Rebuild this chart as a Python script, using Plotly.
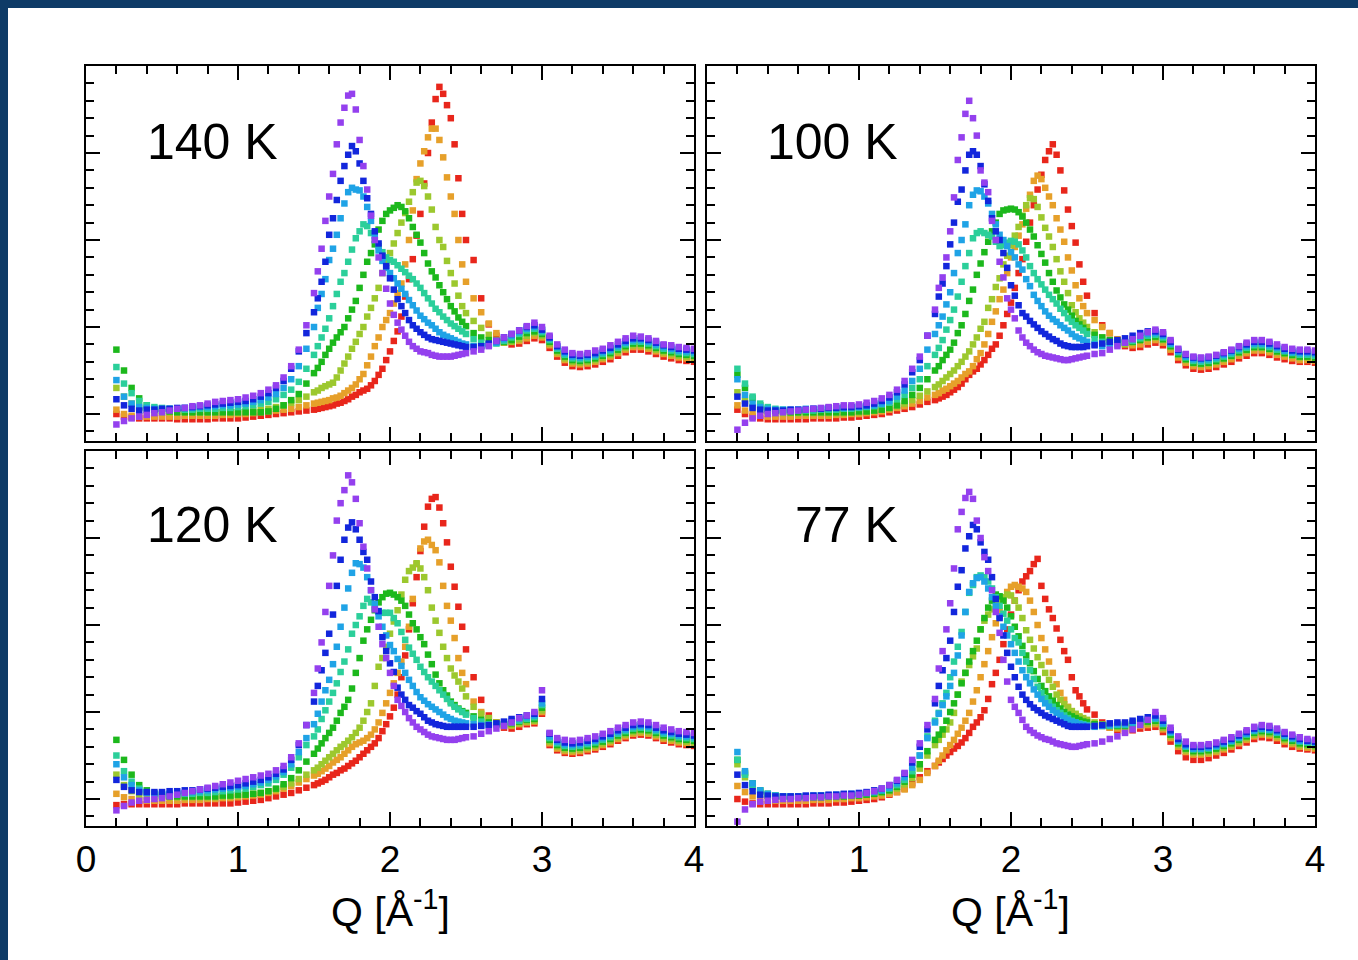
import plotly.graph_objects as go

# Q grid (1/Angstrom)
Q = [0.20, 0.25, 0.30, 0.35, 0.40, 0.45, 0.50, 0.55, 0.60, 0.65, 0.70,
     0.75, 0.80, 0.85, 0.90, 0.95, 1.00, 1.05, 1.10, 1.15, 1.20, 1.25, 1.30, 1.35, 1.40, 1.45,
     1.500, 1.525, 1.550, 1.575, 1.600, 1.625, 1.650, 1.675, 1.700, 1.725, 1.750,
     1.775, 1.800, 1.825, 1.850, 1.875, 1.900, 1.925, 1.950, 1.975, 2.000, 2.025,
     2.050, 2.075, 2.100, 2.125, 2.150, 2.175, 2.200, 2.225, 2.250, 2.275, 2.300,
     2.325, 2.350, 2.375, 2.400, 2.425, 2.450, 2.475, 2.500,
     2.55, 2.60, 2.65, 2.70, 2.75, 2.80, 2.85, 2.90, 2.95, 3.00, 3.05, 3.10, 3.15, 3.20, 3.25,
     3.30, 3.35, 3.40, 3.45, 3.50, 3.55, 3.60, 3.65, 3.70, 3.75, 3.80, 3.85, 3.90, 3.95, 4.00]

# ---------------- 140 K ----------------
k140_purple = [-0.12,-0.08,-0.05,-0.03,-0.01,0.01,0.02,0.04,0.06,0.07,0.09,
    0.10,0.12,0.14,0.15,0.16,0.17,0.19,0.21,0.24,0.28,0.33,0.42,0.55,0.74,1.02,
    1.39,1.64,1.90,2.22,2.50,2.76,3.10,3.35,3.52,3.66,3.68,
    3.50,3.15,2.85,2.58,2.28,2.00,1.80,1.62,1.44,1.27,1.14,
    1.05,0.97,0.90,0.83,0.78,0.75,0.72,0.71,0.70,0.68,0.67,
    0.66,0.66,0.66,0.66,0.67,0.68,0.69,0.70,
    0.72,0.74,0.78,0.84,0.88,0.92,0.96,1.01,1.05,1.00,0.90,0.80,0.74,0.70,0.69,
    0.70,0.73,0.75,0.79,0.83,0.87,0.90,0.89,0.87,0.84,0.80,0.79,0.77,0.76,0.75]
k140_blue = [0.17,0.10,0.06,0.04,0.05,0.05,0.06,0.06,0.07,0.07,0.08,
    0.09,0.10,0.11,0.12,0.13,0.14,0.15,0.17,0.20,0.24,0.30,0.38,0.52,0.72,0.93,
    1.17,1.33,1.52,1.75,2.06,2.25,2.46,2.68,2.85,2.98,3.08,
    3.02,2.88,2.68,2.48,2.30,2.10,1.96,1.82,1.70,1.56,1.43,
    1.32,1.24,1.16,1.08,1.02,0.98,0.94,0.91,0.88,0.86,0.85,
    0.84,0.83,0.82,0.81,0.80,0.79,0.78,0.77,
    0.77,0.78,0.81,0.84,0.88,0.92,0.96,1.00,1.02,0.97,0.88,0.78,0.72,0.68,0.67,
    0.68,0.70,0.73,0.76,0.80,0.84,0.87,0.87,0.85,0.82,0.79,0.77,0.75,0.74,0.73]
k140_lblue = [0.39,0.20,0.12,0.08,0.07,0.06,0.06,0.06,0.06,0.07,0.07,
    0.08,0.08,0.09,0.10,0.10,0.11,0.12,0.14,0.16,0.19,0.23,0.30,0.40,0.55,0.75,
    1.00,1.22,1.38,1.55,1.77,1.90,2.06,2.25,2.42,2.55,2.60,
    2.58,2.57,2.50,2.38,2.22,2.05,1.88,1.76,1.68,1.62,1.56,
    1.50,1.44,1.38,1.31,1.25,1.19,1.13,1.09,1.05,1.02,0.98,
    0.94,0.91,0.89,0.87,0.85,0.83,0.81,0.80,
    0.78,0.78,0.79,0.82,0.86,0.90,0.94,0.98,1.00,0.96,0.87,0.77,0.70,0.66,0.65,
    0.66,0.68,0.71,0.74,0.78,0.82,0.85,0.85,0.83,0.80,0.77,0.75,0.73,0.72,0.71]
k140_mint = [0.54,0.35,0.24,0.15,0.10,0.08,0.07,0.06,0.06,0.05,0.05,
    0.06,0.06,0.06,0.07,0.07,0.08,0.09,0.10,0.12,0.14,0.17,0.22,0.28,0.37,0.52,
    0.68,0.78,0.88,0.98,1.10,1.24,1.38,1.52,1.62,1.75,1.89,
    2.02,2.10,2.18,2.16,2.08,2.00,1.93,1.86,1.80,1.77,1.75,
    1.71,1.67,1.63,1.59,1.55,1.50,1.45,1.39,1.33,1.27,1.21,
    1.17,1.12,1.08,1.04,1.01,0.98,0.95,0.92,
    0.86,0.82,0.80,0.81,0.84,0.88,0.92,0.96,0.98,0.94,0.85,0.75,0.68,0.64,0.63,
    0.64,0.66,0.69,0.72,0.76,0.80,0.83,0.83,0.81,0.78,0.75,0.73,0.71,0.70,0.69]
k140_green = [0.74,0.50,0.30,0.18,0.10,0.06,0.04,0.03,0.02,0.02,0.02,
    0.02,0.02,0.02,0.02,0.02,0.02,0.02,0.02,0.02,0.03,0.06,0.10,0.16,0.23,0.35,
    0.47,0.53,0.60,0.68,0.75,0.82,0.88,0.94,1.00,1.10,1.20,
    1.30,1.45,1.60,1.75,1.85,1.95,2.12,2.22,2.30,2.34,2.37,
    2.40,2.38,2.33,2.25,2.15,2.06,1.97,1.85,1.73,1.64,1.57,
    1.48,1.40,1.32,1.24,1.18,1.11,1.06,1.01,
    0.93,0.88,0.85,0.83,0.83,0.85,0.89,0.93,0.95,0.92,0.83,0.73,0.66,0.62,0.61,
    0.62,0.64,0.67,0.70,0.74,0.78,0.81,0.81,0.79,0.76,0.73,0.71,0.69,0.68,0.67]
k140_ygreen = [0.30,0.20,0.12,0.07,0.04,0.03,0.02,0.02,0.02,0.02,0.02,
    0.02,0.02,0.02,0.02,0.02,0.02,0.03,0.04,0.05,0.06,0.08,0.10,0.13,0.16,0.20,
    0.25,0.27,0.30,0.32,0.34,0.36,0.42,0.50,0.58,0.66,0.75,
    0.83,0.92,1.00,1.12,1.22,1.33,1.45,1.62,1.74,1.85,1.96,
    2.08,2.20,2.31,2.44,2.55,2.66,2.68,2.62,2.50,2.35,2.15,
    2.00,1.92,1.76,1.62,1.50,1.36,1.24,1.16,
    1.07,0.99,0.91,0.85,0.82,0.83,0.86,0.90,0.93,0.90,0.81,0.71,0.64,0.60,0.59,
    0.60,0.62,0.65,0.68,0.72,0.76,0.79,0.79,0.77,0.74,0.71,0.69,0.67,0.66,0.65]
k140_orange = [0.05,0.00,-0.02,-0.03,-0.03,-0.03,-0.03,-0.03,-0.03,-0.02,-0.02,
    -0.02,-0.02,-0.02,-0.01,-0.01,0.00,0.00,0.01,0.02,0.03,0.04,0.05,0.06,0.08,0.10,
    0.12,0.13,0.14,0.15,0.16,0.18,0.19,0.21,0.24,0.27,0.30,
    0.34,0.40,0.46,0.56,0.66,0.78,0.88,1.00,1.08,1.16,1.27,
    1.39,1.50,1.72,2.00,2.34,2.70,2.88,3.02,3.18,3.28,3.28,
    3.15,2.95,2.72,2.50,2.30,2.00,1.72,1.52,
    1.33,1.17,1.04,0.93,0.86,0.83,0.84,0.87,0.90,0.88,0.79,0.69,0.62,0.58,0.57,
    0.58,0.60,0.63,0.66,0.70,0.74,0.77,0.77,0.75,0.72,0.69,0.67,0.65,0.64,0.63]
k140_red = [0.00,-0.03,-0.04,-0.05,-0.05,-0.05,-0.05,-0.05,-0.06,-0.06,-0.06,
    -0.06,-0.06,-0.05,-0.05,-0.05,-0.05,-0.04,-0.03,-0.02,-0.01,0.00,0.01,0.02,0.03,0.04,
    0.05,0.06,0.07,0.08,0.09,0.10,0.12,0.13,0.15,0.17,0.20,
    0.22,0.25,0.27,0.29,0.33,0.38,0.45,0.52,0.62,0.72,0.84,
    0.95,1.12,1.35,1.55,1.78,2.05,2.30,2.65,3.00,3.35,3.62,
    3.76,3.68,3.55,3.40,3.10,2.71,2.30,2.00,
    1.77,1.33,1.03,0.90,0.82,0.80,0.81,0.84,0.87,0.85,0.76,0.66,0.59,0.55,0.54,
    0.55,0.57,0.60,0.63,0.67,0.71,0.74,0.74,0.72,0.69,0.66,0.64,0.62,0.61,0.60]

# ---------------- 100 K ----------------
k100_purple = [-0.18,-0.10,-0.05,-0.02,0.00,0.01,0.02,0.03,0.04,0.05,0.06,
    0.07,0.08,0.09,0.10,0.10,0.11,0.13,0.15,0.18,0.22,0.28,0.38,0.52,0.66,0.90,
    1.20,1.45,1.57,1.80,2.10,2.49,2.92,3.18,3.45,3.60,3.40,
    3.20,2.80,2.66,2.55,2.22,2.00,1.75,1.57,1.33,1.20,1.10,
    0.96,0.88,0.82,0.78,0.74,0.71,0.69,0.67,0.66,0.65,0.64,
    0.63,0.62,0.62,0.63,0.64,0.65,0.66,0.67,
    0.69,0.70,0.74,0.78,0.82,0.86,0.90,0.94,0.97,0.94,0.85,0.75,0.69,0.66,0.65,
    0.66,0.68,0.71,0.74,0.78,0.82,0.85,0.85,0.83,0.80,0.77,0.75,0.74,0.74,0.73]
k100_blue = [0.20,0.12,0.07,0.05,0.04,0.04,0.04,0.05,0.05,0.05,0.06,
    0.06,0.07,0.07,0.08,0.08,0.09,0.10,0.12,0.15,0.19,0.25,0.34,0.48,0.62,0.90,
    1.15,1.35,1.50,1.70,1.95,2.20,2.44,2.58,2.80,2.98,3.02,
    2.98,2.85,2.64,2.45,2.25,2.10,2.00,1.85,1.68,1.48,1.36,
    1.25,1.16,1.12,1.07,1.03,0.99,0.95,0.92,0.89,0.86,0.84,
    0.81,0.79,0.78,0.77,0.77,0.77,0.77,0.78,
    0.79,0.81,0.83,0.85,0.87,0.90,0.93,0.95,0.95,0.92,0.83,0.74,0.68,0.65,0.64,
    0.65,0.67,0.70,0.73,0.77,0.80,0.83,0.83,0.81,0.78,0.75,0.73,0.72,0.72,0.71]
k100_lblue = [0.40,0.22,0.12,0.08,0.06,0.05,0.05,0.05,0.05,0.06,0.06,
    0.06,0.07,0.07,0.07,0.08,0.08,0.09,0.10,0.12,0.15,0.20,0.27,0.38,0.52,0.74,
    0.92,1.02,1.12,1.26,1.40,1.62,1.85,2.00,2.18,2.40,2.52,
    2.57,2.56,2.50,2.42,2.30,2.18,2.06,2.00,1.93,1.86,1.80,
    1.72,1.66,1.55,1.47,1.37,1.30,1.24,1.18,1.13,1.09,1.06,
    1.02,0.99,0.96,0.92,0.89,0.87,0.85,0.83,
    0.80,0.78,0.79,0.81,0.83,0.86,0.89,0.92,0.93,0.90,0.81,0.72,0.66,0.63,0.62,
    0.63,0.65,0.68,0.71,0.75,0.78,0.81,0.81,0.79,0.76,0.73,0.71,0.70,0.70,0.69]
k100_mint = [0.52,0.35,0.20,0.12,0.08,0.06,0.05,0.04,0.04,0.04,0.04,
    0.05,0.05,0.05,0.06,0.06,0.07,0.08,0.09,0.11,0.13,0.17,0.22,0.30,0.40,0.55,
    0.68,0.76,0.85,0.97,1.08,1.20,1.35,1.52,1.70,1.85,2.02,
    2.08,2.10,2.08,2.06,2.04,1.98,1.93,1.94,1.97,1.99,1.98,
    1.95,1.88,1.80,1.70,1.62,1.55,1.49,1.43,1.37,1.32,1.27,
    1.21,1.16,1.10,1.06,1.02,0.99,0.96,0.92,
    0.86,0.83,0.82,0.82,0.82,0.84,0.87,0.90,0.91,0.88,0.80,0.71,0.65,0.61,0.60,
    0.61,0.63,0.66,0.69,0.73,0.76,0.79,0.79,0.77,0.74,0.72,0.70,0.68,0.68,0.67]
k100_green = [0.45,0.30,0.18,0.10,0.06,0.04,0.03,0.02,0.02,0.02,0.02,
    0.02,0.02,0.02,0.02,0.02,0.03,0.03,0.04,0.05,0.07,0.10,0.15,0.22,0.30,0.40,
    0.50,0.55,0.62,0.68,0.74,0.82,0.93,1.02,1.15,1.30,1.43,
    1.60,1.73,1.86,1.98,2.10,2.20,2.30,2.34,2.35,2.36,2.35,
    2.32,2.27,2.20,2.12,2.04,1.94,1.84,1.74,1.62,1.52,1.42,
    1.34,1.26,1.20,1.13,1.07,1.03,0.99,0.95,
    0.91,0.88,0.85,0.83,0.82,0.83,0.85,0.88,0.89,0.86,0.78,0.69,0.63,0.59,0.58,
    0.59,0.61,0.64,0.67,0.71,0.74,0.77,0.77,0.75,0.72,0.70,0.68,0.66,0.66,0.65]
k100_ygreen = [0.25,0.15,0.08,0.04,0.02,0.01,0.01,0.01,0.01,0.01,0.01,
    0.01,0.01,0.01,0.01,0.02,0.02,0.03,0.04,0.05,0.07,0.09,0.12,0.16,0.21,0.26,
    0.31,0.34,0.38,0.42,0.46,0.50,0.55,0.60,0.66,0.72,0.80,
    0.88,0.98,1.06,1.22,1.32,1.46,1.56,1.72,1.82,1.94,2.05,
    2.15,2.28,2.40,2.48,2.47,2.38,2.26,2.14,2.04,1.92,1.78,
    1.64,1.52,1.39,1.25,1.17,1.10,1.05,1.00,
    0.94,0.88,0.83,0.80,0.80,0.82,0.85,0.87,0.88,0.85,0.77,0.68,0.62,0.58,0.57,
    0.58,0.60,0.63,0.66,0.70,0.73,0.76,0.76,0.74,0.71,0.69,0.67,0.65,0.65,0.64]
k100_orange = [0.10,0.04,0.00,-0.02,-0.03,-0.03,-0.03,-0.03,-0.02,-0.02,-0.02,
    -0.02,-0.02,-0.01,-0.01,0.00,0.00,0.01,0.02,0.03,0.05,0.07,0.09,0.12,0.15,0.19,
    0.22,0.24,0.27,0.29,0.32,0.35,0.38,0.42,0.46,0.49,0.55,
    0.63,0.70,0.80,0.92,1.06,1.18,1.32,1.43,1.62,1.80,1.92,
    2.05,2.18,2.36,2.52,2.68,2.74,2.70,2.60,2.50,2.40,2.25,
    2.12,1.98,1.80,1.65,1.48,1.33,1.24,1.16,
    1.08,1.00,0.93,0.86,0.81,0.79,0.80,0.83,0.85,0.82,0.74,0.65,0.59,0.55,0.54,
    0.55,0.57,0.60,0.63,0.67,0.70,0.73,0.73,0.71,0.68,0.66,0.64,0.62,0.62,0.61]
k100_red = [0.05,0.00,-0.03,-0.05,-0.06,-0.06,-0.06,-0.06,-0.06,-0.06,-0.05,
    -0.05,-0.05,-0.05,-0.04,-0.04,-0.03,-0.02,-0.01,0.00,0.02,0.04,0.06,0.08,0.11,0.14,
    0.16,0.18,0.20,0.22,0.25,0.28,0.31,0.35,0.40,0.45,0.49,
    0.52,0.57,0.62,0.68,0.75,0.80,0.90,1.02,1.15,1.28,1.45,
    1.62,1.78,1.98,2.20,2.40,2.58,2.75,2.92,3.02,3.10,2.98,
    2.80,2.57,2.35,2.16,1.97,1.72,1.52,1.36,
    1.16,1.02,0.93,0.85,0.78,0.76,0.77,0.80,0.82,0.79,0.71,0.62,0.56,0.52,0.51,
    0.52,0.54,0.57,0.60,0.64,0.67,0.70,0.70,0.68,0.65,0.63,0.61,0.60,0.60,0.59]

# ---------------- 120 K ----------------
k120_purple = [-0.13,-0.08,-0.04,-0.02,-0.01,0.00,0.01,0.03,0.05,0.07,0.09,
    0.11,0.13,0.15,0.17,0.19,0.21,0.23,0.25,0.27,0.29,0.33,0.38,0.48,0.64,0.85,
    1.22,1.50,1.80,2.15,2.45,2.80,3.20,3.40,3.55,3.72,3.64,
    3.45,3.17,2.90,2.65,2.40,2.18,1.98,1.78,1.62,1.45,1.30,
    1.14,1.07,1.00,0.93,0.88,0.83,0.80,0.77,0.74,0.72,0.71,
    0.70,0.69,0.68,0.68,0.68,0.69,0.70,0.71,
    0.72,0.75,0.78,0.81,0.84,0.88,0.93,0.96,1.00,1.25,0.76,0.70,0.68,0.67,0.68,
    0.70,0.72,0.75,0.78,0.82,0.85,0.88,0.89,0.88,0.85,0.82,0.80,0.78,0.77,0.76]
k120_blue = [0.22,0.14,0.10,0.08,0.08,0.08,0.08,0.09,0.09,0.10,0.10,
    0.11,0.12,0.13,0.14,0.15,0.16,0.18,0.20,0.22,0.25,0.29,0.34,0.45,0.62,0.85,
    1.12,1.30,1.48,1.68,1.90,2.12,2.45,2.75,2.98,3.12,3.18,
    3.10,2.98,2.84,2.75,2.50,2.32,2.16,1.86,1.70,1.56,1.46,
    1.28,1.20,1.14,1.08,1.05,1.01,0.98,0.94,0.90,0.88,0.86,
    0.85,0.84,0.83,0.83,0.83,0.83,0.83,0.83,
    0.83,0.84,0.85,0.87,0.89,0.92,0.94,0.96,0.98,1.15,0.75,0.68,0.65,0.64,0.65,
    0.67,0.69,0.72,0.75,0.79,0.82,0.85,0.86,0.85,0.82,0.79,0.77,0.75,0.74,0.73]
k120_lblue = [0.40,0.25,0.16,0.10,0.07,0.06,0.06,0.06,0.07,0.07,0.08,
    0.09,0.10,0.11,0.12,0.13,0.14,0.15,0.17,0.19,0.22,0.26,0.31,0.40,0.54,0.70,
    0.86,0.98,1.12,1.25,1.37,1.55,1.75,1.98,2.20,2.42,2.60,
    2.71,2.70,2.66,2.55,2.40,2.24,2.10,1.98,1.88,1.77,1.70,
    1.61,1.53,1.45,1.37,1.30,1.23,1.17,1.13,1.09,1.06,1.03,
    1.00,0.97,0.94,0.92,0.90,0.89,0.88,0.87,
    0.86,0.85,0.85,0.86,0.88,0.90,0.92,0.94,0.96,1.10,0.72,0.66,0.63,0.62,0.63,
    0.65,0.67,0.70,0.73,0.77,0.80,0.83,0.84,0.83,0.80,0.77,0.75,0.73,0.72,0.71]
k120_mint = [0.50,0.32,0.20,0.12,0.08,0.06,0.05,0.05,0.05,0.06,0.06,
    0.07,0.07,0.08,0.09,0.10,0.11,0.12,0.14,0.16,0.18,0.22,0.28,0.36,0.48,0.62,
    0.72,0.80,0.92,1.02,1.12,1.22,1.33,1.46,1.58,1.72,1.90,
    2.00,2.10,2.22,2.30,2.26,2.20,2.15,2.14,2.14,2.14,2.08,
    2.02,1.92,1.83,1.74,1.67,1.60,1.52,1.46,1.40,1.35,1.30,
    1.25,1.20,1.15,1.10,1.06,1.03,1.00,0.97,
    0.93,0.89,0.86,0.85,0.86,0.88,0.90,0.92,0.94,1.08,0.70,0.64,0.61,0.60,0.61,
    0.63,0.65,0.68,0.71,0.75,0.78,0.81,0.82,0.81,0.78,0.75,0.73,0.71,0.70,0.69]
k120_green = [0.68,0.45,0.28,0.16,0.10,0.06,0.04,0.03,0.03,0.03,0.03,
    0.03,0.03,0.03,0.04,0.04,0.05,0.05,0.06,0.07,0.09,0.12,0.17,0.24,0.33,0.43,
    0.52,0.58,0.64,0.70,0.76,0.82,0.90,0.99,1.06,1.14,1.27,
    1.45,1.62,1.82,1.95,2.06,2.17,2.26,2.32,2.36,2.37,2.35,
    2.32,2.28,2.22,2.12,2.02,1.95,1.86,1.78,1.66,1.55,1.43,
    1.33,1.25,1.19,1.12,1.08,1.04,1.01,0.99,
    0.95,0.91,0.88,0.86,0.86,0.87,0.89,0.91,0.92,1.05,0.68,0.62,0.59,0.58,0.59,
    0.61,0.63,0.66,0.69,0.73,0.76,0.79,0.80,0.79,0.76,0.73,0.71,0.69,0.68,0.67]
k120_ygreen = [0.28,0.16,0.09,0.05,0.03,0.02,0.02,0.02,0.02,0.02,0.02,
    0.02,0.02,0.02,0.03,0.03,0.04,0.05,0.06,0.07,0.09,0.11,0.14,0.18,0.23,0.28,
    0.33,0.36,0.40,0.44,0.48,0.52,0.56,0.60,0.63,0.67,0.71,
    0.76,0.82,0.90,1.00,1.10,1.30,1.52,1.62,1.75,1.90,2.04,
    2.17,2.35,2.52,2.62,2.66,2.71,2.65,2.55,2.40,2.20,2.05,
    1.91,1.75,1.62,1.50,1.42,1.35,1.27,1.18,
    1.06,0.98,0.93,0.88,0.85,0.85,0.87,0.89,0.90,1.02,0.66,0.60,0.57,0.56,0.57,
    0.59,0.61,0.64,0.67,0.71,0.74,0.77,0.78,0.77,0.74,0.71,0.69,0.67,0.66,0.65]
k120_orange = [0.06,0.02,0.00,-0.01,-0.02,-0.02,-0.02,-0.02,-0.02,-0.01,-0.01,
    -0.01,0.00,0.00,0.01,0.01,0.02,0.03,0.04,0.05,0.07,0.09,0.12,0.15,0.19,0.23,
    0.27,0.29,0.32,0.35,0.38,0.42,0.45,0.48,0.52,0.56,0.60,
    0.63,0.65,0.67,0.70,0.74,0.80,0.88,0.99,1.10,1.22,1.33,
    1.45,1.58,1.75,1.98,2.30,2.70,2.88,2.96,2.98,2.92,2.86,
    2.72,2.45,2.22,2.05,1.85,1.62,1.45,1.32,
    1.12,1.00,0.93,0.87,0.84,0.84,0.86,0.88,0.89,1.00,0.64,0.58,0.55,0.54,0.55,
    0.57,0.59,0.62,0.65,0.69,0.72,0.75,0.76,0.75,0.72,0.69,0.67,0.65,0.64,0.63]
k120_red = [-0.07,-0.06,-0.06,-0.06,-0.06,-0.06,-0.06,-0.06,-0.06,-0.05,-0.05,
    -0.05,-0.05,-0.05,-0.05,-0.05,-0.04,-0.03,-0.02,-0.01,0.01,0.03,0.05,0.07,0.10,0.13,
    0.16,0.18,0.20,0.22,0.25,0.28,0.30,0.33,0.35,0.38,0.41,
    0.44,0.48,0.52,0.56,0.60,0.64,0.70,0.78,0.86,0.95,1.05,
    1.20,1.40,1.65,1.95,2.25,2.55,2.85,3.13,3.36,3.45,3.47,
    3.35,3.17,2.95,2.67,2.44,2.21,1.98,1.72,
    1.40,1.14,0.96,0.88,0.82,0.81,0.83,0.86,0.87,0.98,0.62,0.56,0.53,0.52,0.53,
    0.55,0.57,0.60,0.63,0.67,0.70,0.73,0.74,0.73,0.70,0.67,0.65,0.63,0.62,0.61]

# ---------------- 77 K ----------------
k77_purple = [-0.26,-0.12,-0.06,-0.03,-0.02,-0.01,0.00,0.00,0.01,0.01,0.02,
    0.02,0.03,0.03,0.04,0.04,0.05,0.07,0.09,0.12,0.16,0.22,0.30,0.45,0.64,0.85,
    1.15,1.50,1.70,1.95,2.25,2.65,3.10,3.30,3.46,3.53,3.45,
    3.20,3.00,2.78,2.62,2.40,2.15,1.91,1.60,1.35,1.14,1.06,
    0.99,0.91,0.83,0.79,0.76,0.73,0.71,0.69,0.68,0.66,0.64,
    0.63,0.62,0.61,0.60,0.60,0.61,0.62,0.63,
    0.64,0.66,0.69,0.72,0.76,0.80,0.85,0.91,1.00,0.93,0.82,0.72,0.66,0.62,0.62,
    0.63,0.65,0.68,0.71,0.75,0.79,0.83,0.85,0.84,0.81,0.77,0.74,0.71,0.69,0.68]
k77_blue = [0.28,0.16,0.09,0.05,0.04,0.03,0.03,0.03,0.03,0.04,0.04,
    0.04,0.05,0.05,0.06,0.06,0.07,0.08,0.10,0.12,0.16,0.21,0.29,0.42,0.60,0.80,
    1.10,1.30,1.48,1.62,1.82,2.15,2.44,2.63,2.88,3.02,3.15,
    3.10,2.95,2.84,2.75,2.55,2.30,2.08,1.88,1.68,1.52,1.40,
    1.29,1.20,1.14,1.09,1.05,1.02,0.99,0.96,0.94,0.92,0.90,
    0.88,0.86,0.84,0.83,0.83,0.83,0.83,0.83,
    0.84,0.85,0.87,0.88,0.88,0.90,0.92,0.94,0.96,0.90,0.79,0.69,0.63,0.60,0.60,
    0.61,0.63,0.66,0.69,0.73,0.77,0.81,0.83,0.82,0.79,0.75,0.72,0.69,0.67,0.66]
k77_lblue = [0.54,0.32,0.18,0.10,0.06,0.04,0.03,0.03,0.03,0.03,0.04,
    0.04,0.04,0.05,0.05,0.06,0.06,0.07,0.08,0.10,0.13,0.18,0.25,0.36,0.50,0.70,
    0.88,0.98,1.08,1.18,1.30,1.45,1.65,1.88,2.15,2.38,2.48,
    2.54,2.55,2.50,2.42,2.32,2.22,2.10,1.98,1.88,1.78,1.68,
    1.58,1.48,1.40,1.33,1.26,1.20,1.15,1.10,1.06,1.02,0.99,
    0.96,0.93,0.91,0.89,0.88,0.86,0.85,0.84,
    0.83,0.84,0.85,0.86,0.86,0.88,0.90,0.92,0.93,0.87,0.77,0.67,0.61,0.58,0.58,
    0.59,0.61,0.64,0.67,0.71,0.75,0.79,0.81,0.80,0.77,0.73,0.70,0.67,0.66,0.65]
k77_mint = [0.45,0.28,0.16,0.09,0.05,0.04,0.03,0.03,0.03,0.03,0.03,
    0.04,0.04,0.04,0.05,0.05,0.06,0.07,0.08,0.10,0.12,0.16,0.22,0.32,0.50,0.72,
    0.90,0.99,1.10,1.22,1.40,1.58,1.75,1.92,2.15,2.37,2.46,
    2.55,2.57,2.55,2.50,2.42,2.32,2.22,2.13,2.05,1.95,1.85,
    1.80,1.68,1.58,1.48,1.38,1.29,1.22,1.16,1.11,1.06,1.02,
    0.99,0.96,0.93,0.90,0.88,0.87,0.86,0.85,
    0.84,0.84,0.84,0.85,0.85,0.87,0.89,0.91,0.92,0.86,0.76,0.66,0.60,0.57,0.57,
    0.58,0.60,0.63,0.66,0.70,0.74,0.78,0.80,0.79,0.76,0.72,0.69,0.66,0.65,0.64]
k77_green = [0.45,0.30,0.18,0.10,0.06,0.04,0.03,0.02,0.02,0.02,0.02,
    0.02,0.03,0.03,0.03,0.04,0.04,0.05,0.06,0.08,0.10,0.14,0.20,0.28,0.40,0.55,
    0.68,0.74,0.80,0.90,1.00,1.10,1.20,1.33,1.45,1.58,1.70,
    1.82,1.95,2.08,2.20,2.28,2.35,2.33,2.28,2.20,2.10,1.98,
    1.87,1.76,1.65,1.56,1.47,1.38,1.30,1.24,1.18,1.13,1.08,
    1.04,1.00,0.97,0.95,0.93,0.91,0.89,0.88,
    0.86,0.85,0.84,0.84,0.84,0.86,0.88,0.89,0.90,0.84,0.74,0.64,0.58,0.55,0.55,
    0.56,0.58,0.61,0.64,0.68,0.72,0.76,0.78,0.77,0.74,0.70,0.67,0.64,0.63,0.62]
k77_ygreen = [0.40,0.25,0.14,0.08,0.04,0.03,0.02,0.02,0.02,0.02,0.02,
    0.02,0.02,0.02,0.03,0.03,0.04,0.05,0.06,0.07,0.09,0.12,0.17,0.24,0.35,0.50,
    0.62,0.68,0.74,0.80,0.88,0.99,1.20,1.35,1.45,1.54,1.64,
    1.73,1.95,2.05,2.12,2.18,2.24,2.28,2.32,2.35,2.34,2.28,
    2.20,2.08,1.94,1.83,1.73,1.63,1.54,1.45,1.37,1.29,1.20,
    1.14,1.09,1.05,1.01,0.98,0.95,0.93,0.91,
    0.88,0.86,0.84,0.83,0.83,0.84,0.86,0.87,0.88,0.82,0.72,0.62,0.56,0.53,0.53,
    0.54,0.56,0.59,0.62,0.66,0.70,0.74,0.76,0.75,0.72,0.68,0.65,0.62,0.61,0.60]
k77_orange = [0.15,0.08,0.03,0.00,-0.01,-0.02,-0.02,-0.02,-0.02,-0.02,-0.01,
    -0.01,-0.01,0.00,0.00,0.01,0.01,0.02,0.03,0.04,0.06,0.08,0.11,0.16,0.22,0.30,
    0.38,0.44,0.50,0.56,0.62,0.68,0.75,0.82,0.90,0.99,1.12,
    1.25,1.40,1.55,1.70,1.86,2.02,2.16,2.28,2.38,2.44,2.46,
    2.44,2.42,2.38,2.28,2.15,2.00,1.85,1.72,1.58,1.45,1.32,
    1.22,1.14,1.06,1.01,0.97,0.94,0.91,0.89,
    0.86,0.84,0.82,0.81,0.81,0.82,0.84,0.85,0.86,0.80,0.70,0.60,0.54,0.51,0.51,
    0.52,0.54,0.57,0.60,0.64,0.68,0.72,0.74,0.73,0.70,0.66,0.63,0.60,0.59,0.58]
k77_red = [0.00,-0.03,-0.05,-0.06,-0.06,-0.06,-0.06,-0.06,-0.06,-0.06,-0.05,
    -0.05,-0.05,-0.04,-0.04,-0.03,-0.02,-0.01,0.00,0.02,0.05,0.08,0.12,0.18,0.25,0.32,
    0.38,0.42,0.46,0.50,0.54,0.58,0.61,0.65,0.70,0.76,0.83,
    0.88,0.94,1.02,1.15,1.32,1.45,1.60,1.78,1.95,2.12,2.28,
    2.40,2.50,2.56,2.62,2.70,2.76,2.45,2.30,2.18,2.08,1.96,
    1.83,1.70,1.60,1.40,1.25,1.18,1.10,1.03,
    0.97,0.88,0.82,0.79,0.78,0.79,0.81,0.82,0.83,0.77,0.66,0.55,0.48,0.45,0.45,
    0.47,0.50,0.53,0.57,0.61,0.65,0.69,0.71,0.70,0.67,0.63,0.60,0.58,0.57,0.56]

SERIES_ORDER = ["red", "orange", "ygreen", "green", "mint", "lblue", "blue", "purple"]
COLORS = {"red": "#e8261b", "orange": "#e6a02a", "ygreen": "#9cc82e", "green": "#1cb81c",
          "mint": "#2bcf9a", "lblue": "#1fa3e6", "blue": "#1226dc", "purple": "#9440ee"}

PANELS = [
    ("x", "y", "140 K", {"red": k140_red, "orange": k140_orange, "ygreen": k140_ygreen, "green": k140_green,
                         "mint": k140_mint, "lblue": k140_lblue, "blue": k140_blue, "purple": k140_purple}),
    ("x2", "y2", "100 K", {"red": k100_red, "orange": k100_orange, "ygreen": k100_ygreen, "green": k100_green,
                           "mint": k100_mint, "lblue": k100_lblue, "blue": k100_blue, "purple": k100_purple}),
    ("x3", "y3", "120 K", {"red": k120_red, "orange": k120_orange, "ygreen": k120_ygreen, "green": k120_green,
                           "mint": k120_mint, "lblue": k120_lblue, "blue": k120_blue, "purple": k120_purple}),
    ("x4", "y4", "77 K", {"red": k77_red, "orange": k77_orange, "ygreen": k77_ygreen, "green": k77_green,
                          "mint": k77_mint, "lblue": k77_lblue, "blue": k77_blue, "purple": k77_purple}),
]

for xa, ya, lab, data in PANELS:
    for k, v in data.items():
        if len(v) != len(Q):
            raise ValueError(f"{lab} {k}: {len(v)} != {len(Q)}")

W, H = 1358, 960
FONT = "Liberation Sans, Arial, Helvetica, sans-serif"

fig = go.Figure()
for xa, ya, lab, data in PANELS:
    for name in SERIES_ORDER:
        fig.add_trace(go.Scatter(
            x=Q, y=data[name], mode="markers", xaxis=xa, yaxis=ya,
            marker=dict(symbol="square", size=6.5, color=COLORS[name], line=dict(width=0)),
            showlegend=False, hoverinfo="skip"))

def px_x(p):
    return p / W

def px_y(p):
    return 1 - p / H

XL = [px_x(86), px_x(694)]
XR = [px_x(707), px_x(1315)]
YT = [px_y(441), px_y(66)]
YB = [px_y(826), px_y(451)]

def xax(domain, anchor, labels, tickvals):
    return dict(domain=domain, anchor=anchor, range=[0, 4], showgrid=False, zeroline=False,
                showline=True, linecolor="black", linewidth=2, mirror="allticks",
                ticks="inside", ticklen=14, tickwidth=2, tickcolor="black",
                tickmode="array", tickvals=tickvals, ticktext=[str(v) for v in tickvals],
                showticklabels=labels, ticklabelstandoff=0, automargin=False,
                tickfont=dict(family=FONT, size=37, color="black"),
                minor=dict(ticks="inside", ticklen=8, tickwidth=2, tickcolor="black", dtick=0.2, tick0=0,
                           showgrid=False))

def yax(domain, anchor):
    return dict(domain=domain, anchor=anchor, range=[-0.31, 4.0], showgrid=False, zeroline=False,
                showline=True, linecolor="black", linewidth=2, mirror="allticks",
                ticks="inside", ticklen=14, tickwidth=2, tickcolor="black", dtick=1, tick0=0,
                showticklabels=False, automargin=False,
                minor=dict(ticks="inside", ticklen=8, tickwidth=2, tickcolor="black", dtick=0.2, tick0=0,
                           showgrid=False))

annotations = []
for (xr, yr, text) in [(280, 142, "140 K"), (900, 142, "100 K"), (280, 525, "120 K"), (900, 525, "77 K")]:
    annotations.append(dict(x=px_x(xr), y=px_y(yr), xref="paper", yref="paper", text=text,
                            showarrow=False, xanchor="right", yanchor="middle",
                            font=dict(family=FONT, size=50, color="black")))
for xc in [391, 1010]:
    annotations.append(dict(x=px_x(xc), y=px_y(909), xref="paper", yref="paper",
                            text="Q [Å<sup>-1</sup>]", showarrow=False, xanchor="center", yanchor="middle",
                            font=dict(family=FONT, size=41, color="black")))

shapes = [
    dict(type="rect", xref="paper", yref="paper", x0=0, x1=px_x(8), y0=0, y1=1,
         fillcolor="#0e3b67", line=dict(width=0), layer="above"),
    dict(type="rect", xref="paper", yref="paper", x0=0, x1=1, y0=px_y(8), y1=1,
         fillcolor="#0e3b67", line=dict(width=0), layer="above"),
]

fig.update_layout(
    width=W, height=H, autosize=False,
    margin=dict(l=0, r=0, t=0, b=0, pad=0, autoexpand=False),
    paper_bgcolor="white", plot_bgcolor="white",
    xaxis=xax(XL, "y", False, [0, 1, 2, 3, 4]),
    yaxis=yax(YT, "x"),
    xaxis2=xax(XR, "y2", False, [0, 1, 2, 3, 4]),
    yaxis2=yax(YT, "x2"),
    xaxis3=xax(XL, "y3", True, [0, 1, 2, 3, 4]),
    yaxis3=yax(YB, "x3"),
    xaxis4=xax(XR, "y4", True, [1, 2, 3, 4]),
    yaxis4=yax(YB, "x4"),
    annotations=annotations, shapes=shapes, showlegend=False,
)

fig.write_html("out.html",
               post_script="document.body.style.margin='0';document.body.style.padding='0';"
                           "document.documentElement.style.overflow='hidden';")
